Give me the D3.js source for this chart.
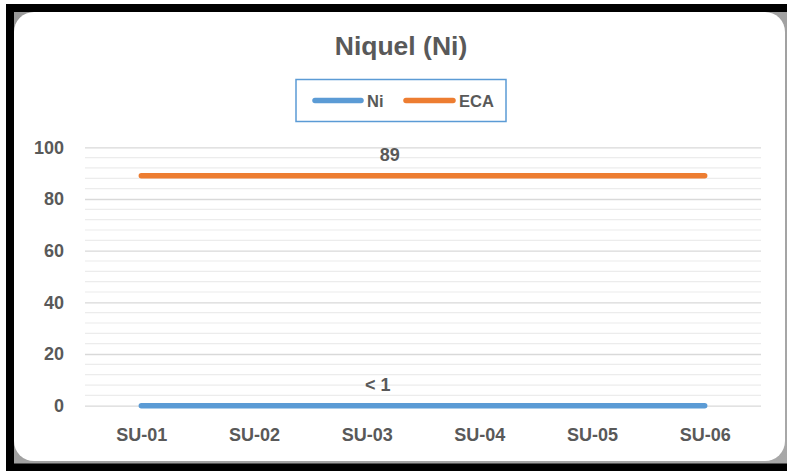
<!DOCTYPE html>
<html>
<head>
<meta charset="utf-8">
<script src="https://cdn.jsdelivr.net/npm/d3@7"></script>
<style>
  html, body { margin: 0; padding: 0; background: #ffffff; }
  svg { display: block; }
  text { font-family: "Liberation Sans", Arial, sans-serif; font-weight: bold; fill: #595959; }
</style>
</head>
<body>
<svg id="chart" width="787" height="471"></svg>
<script>
// Sample points and concentrations
const categories = ["SU-01", "SU-02", "SU-03", "SU-04", "SU-05", "SU-06"];
const niValues  = [0, 0, 0, 0, 0, 0];        // below detection limit (< 1)
const ecaValues = [89, 89, 89, 89, 89, 89];  // environmental quality standard
const yTicks = [0, 20, 40, 60, 80, 100];
const minorStep = 4;
const niLabel = "< 1";
const ecaLabel = "89";
const titleText = "Niquel (Ni)";

const colors = { ni: "#5b9bd5", eca: "#ed7d31" };

const svg = d3.select("#chart");

// Framed card: black frame, soft grey corners, white rounded card
const defs = svg.append("defs");
const grad = defs.append("linearGradient").attr("id", "edge")
  .attr("x1", "0").attr("y1", "0").attr("x2", "1").attr("y2", "1");
grad.append("stop").attr("offset", "0").attr("stop-color", "#9a9a9a");
grad.append("stop").attr("offset", "1").attr("stop-color", "#a8a8a8");

svg.append("rect").attr("x", 6).attr("y", 4).attr("width", 781).attr("height", 467).attr("fill", "#000");
svg.append("rect").attr("x", 14).attr("y", 12).attr("width", 773).attr("height", 451.5)
  .attr("fill", "url(#edge)");
svg.append("rect").attr("x", 14).attr("y", 12).attr("width", 771).attr("height", 449)
  .attr("rx", 20).attr("ry", 20).attr("fill", "#fff");

// Scales
const plot = { left: 85, right: 761, top: 147.3, bottom: 405.7 };
const x = d3.scalePoint().domain(categories).range([plot.left, plot.right]).padding(0.5);
const y = d3.scaleLinear().domain([0, 100]).range([plot.bottom, plot.top]);

// Minor gridlines
const minorTicks = d3.range(0, 100 + 0.001, minorStep).filter(v => !yTicks.includes(v));
svg.append("g").selectAll("line").data(minorTicks).join("line")
  .attr("x1", plot.left).attr("x2", plot.right)
  .attr("y1", d => y(d)).attr("y2", d => y(d))
  .attr("stroke", "#ececec").attr("stroke-width", 1.2);

// Y axis with major gridlines
const yAxis = d3.axisLeft(y).tickValues(yTicks).tickSize(-(plot.right - plot.left)).tickPadding(21);
const gy = svg.append("g").attr("transform", `translate(${plot.left},0)`).call(yAxis);
gy.select(".domain").remove();
gy.selectAll(".tick line").attr("stroke", "#d9d9d9").attr("stroke-width", 1.3);
gy.selectAll(".tick text").attr("font-size", 18).attr("fill", "#595959")
  .attr("font-family", "Liberation Sans, Arial, sans-serif").attr("font-weight", "bold");

// X axis labels
const xAxis = d3.axisBottom(x).tickSize(0).tickPadding(23);
const gx = svg.append("g").attr("transform", `translate(0,${plot.bottom})`).call(xAxis);
gx.select(".domain").remove();
gx.selectAll(".tick text").attr("font-size", 18).attr("fill", "#595959")
  .attr("font-family", "Liberation Sans, Arial, sans-serif").attr("font-weight", "bold");

// Series lines
const line = d3.line().x((d, i) => x(categories[i])).y(d => y(d));
[[ecaValues, colors.eca], [niValues, colors.ni]].forEach(([vals, c]) => {
  svg.append("path").datum(vals).attr("d", line)
    .attr("fill", "none").attr("stroke", c).attr("stroke-width", 5.5)
    .attr("stroke-linecap", "round").attr("stroke-linejoin", "round");
});

// Data labels
svg.append("text").attr("x", x(categories[2]) + 23).attr("y", y(ecaValues[2]) - 15)
  .attr("text-anchor", "middle").attr("font-size", 18).text(ecaLabel);
svg.append("text").attr("x", x(categories[2]) + 11).attr("y", y(niValues[2]) - 15)
  .attr("text-anchor", "middle").attr("font-size", 18).text(niLabel);

// Title
svg.append("text").attr("x", 401).attr("y", 55).attr("text-anchor", "middle")
  .attr("font-size", 26.5).text(titleText);

// Legend
const lg = svg.append("g");
lg.append("rect").attr("x", 296).attr("y", 79.5).attr("width", 210).attr("height", 42)
  .attr("fill", "#fff").attr("stroke", "#5b9bd5").attr("stroke-width", 1.5);
const items = [
  { name: "Ni", color: colors.ni, x0: 315, x1: 361, tx: 367 },
  { name: "ECA", color: colors.eca, x0: 406, x1: 453, tx: 459 }
];
items.forEach(it => {
  lg.append("line").attr("x1", it.x0).attr("x2", it.x1).attr("y1", 100.5).attr("y2", 100.5)
    .attr("stroke", it.color).attr("stroke-width", 5.5).attr("stroke-linecap", "round");
  lg.append("text").attr("x", it.tx).attr("y", 106.5).attr("font-size", 16.5).text(it.name);
});
</script>
</body>
</html>
